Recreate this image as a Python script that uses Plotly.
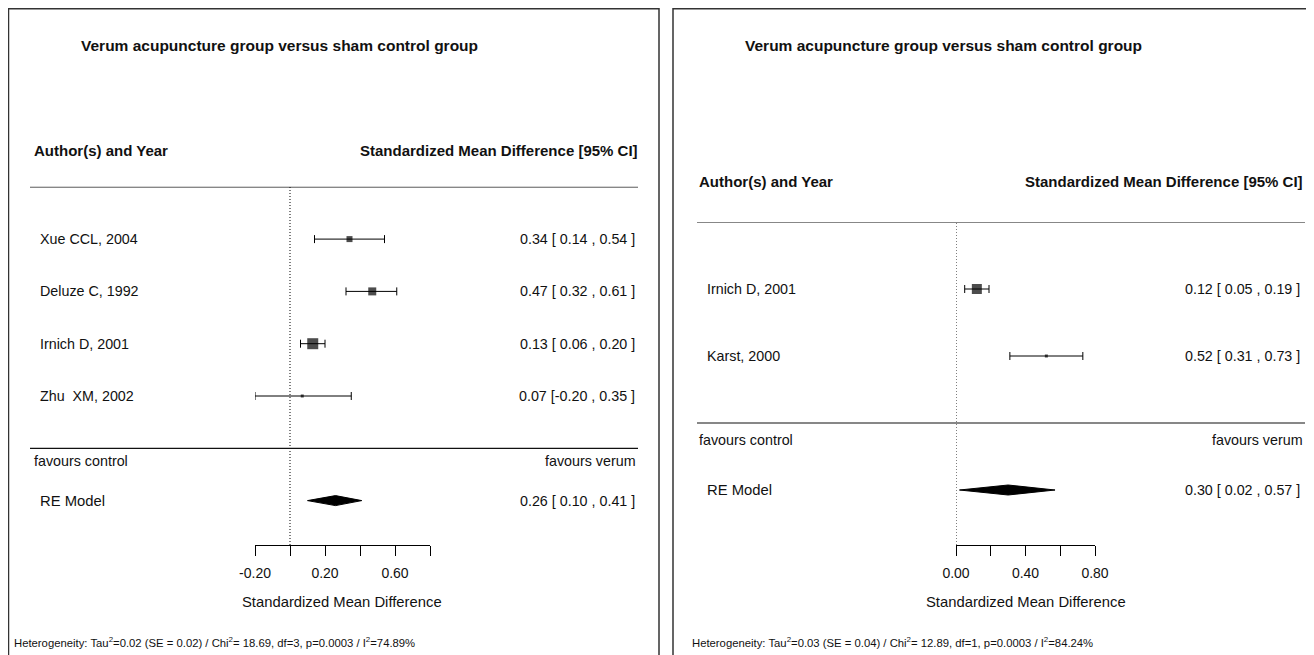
import plotly.graph_objects as go

# ---------------- data ----------------
title_text = "Verum acupuncture group versus sham control group"
col_left = "Author(s) and Year"
col_right = "Standardized Mean Difference [95% CI]"
axis_title = "Standardized Mean Difference"

# Left panel
L_studies = ["Xue CCL, 2004", "Deluze C, 1992", "Irnich D, 2001", "Zhu  XM, 2002"]
L_est = [0.34, 0.47, 0.13, 0.07]
L_lo = [0.14, 0.32, 0.06, -0.20]
L_hi = [0.54, 0.61, 0.20, 0.35]
L_re = [0.26, 0.10, 0.41]
L_ticks = [-0.2, 0.0, 0.2, 0.4, 0.6, 0.8]
L_ticklabels = ["-0.20", "", "0.20", "", "0.60", ""]
L_het = ("Heterogeneity: Tau<sup>2</sup>=0.02 (SE = 0.02) / Chi<sup>2</sup>= 18.69, "
         "df=3, p=0.0003 / I<sup>2</sup>=74.89%")

# Right panel
R_studies = ["Irnich D, 2001", "Karst, 2000"]
R_est = [0.12, 0.52]
R_lo = [0.05, 0.31]
R_hi = [0.19, 0.73]
R_re = [0.30, 0.02, 0.57]
R_ticks = [0.0, 0.2, 0.4, 0.6, 0.8]
R_ticklabels = ["0.00", "", "0.40", "", "0.80"]
R_het = ("Heterogeneity: Tau<sup>2</sup>=0.03 (SE = 0.04) / Chi<sup>2</sup>= 12.89, "
         "df=1, p=0.0003 / I<sup>2</sup>=84.24%")

# ---------------- style / layout ----------------
OFF = 8                      # page body margin
W, H = 1314 - OFF, 655 - OFF  # figure fills the rest of the window
FONT = "Liberation Sans, Arial, Helvetica, sans-serif"
L_marker_px = [6, 8, 11, 3]
R_marker_px = [10, 3]
TXT = 14.3


def px(x):
    return (x - OFF) / W


def py(y):
    return 1 - (y - OFF) / H


def fmt(e, lo, hi):
    return f"{e:.2f} [{lo:5.2f} , {hi:.2f} ]"


fig = go.Figure()
annotations = []
shapes = []

panels = [
    dict(studies=L_studies, est=L_est, lo=L_lo, hi=L_hi, re=L_re, ticks=L_ticks,
         ticklabels=L_ticklabels, het=L_het, msize=L_marker_px,
         xax="x", yax="y", xkey="xaxis", ykey="yaxis",
         ax_px=(255, 430), xrange=[-0.2, 0.8], row1_px=396, pitch=52.3, top_row=5,
         box=(8.5, 659), title_x=279, head_y=151, txt_l=38, head_l=32, txt_r=637,
         line_l=30, line_r=638, het_x=12, dia_h=5),
    dict(studies=R_studies, est=R_est, lo=R_lo, hi=R_hi, re=R_re, ticks=R_ticks,
         ticklabels=R_ticklabels, het=R_het, msize=R_marker_px,
         xax="x2", yax="y2", xkey="xaxis2", ykey="yaxis2",
         ax_px=(956, 1095), xrange=[0.0, 0.8], row1_px=356, pitch=67.0, top_row=3,
         box=(673, 1330), title_x=943, head_y=181, txt_l=705, head_l=697, txt_r=1302,
         line_l=697, line_r=1305, het_x=690, dia_h=5),
]

AXIS_PX = 545

for p in panels:
    k = len(p["studies"])
    rows = list(range(k, 0, -1))
    ybot = 1 - (AXIS_PX - p["row1_px"]) / p["pitch"]
    top_px = p["row1_px"] - (p["top_row"] - 1) * p["pitch"]
    ytop = p["top_row"]

    # study estimates with CIs
    fig.add_trace(go.Scatter(
        x=p["est"], y=rows, mode="markers", xaxis=p["xax"], yaxis=p["yax"],
        marker=dict(symbol="square", size=p["msize"], color="black", line=dict(width=0)),
        error_x=dict(type="data", symmetric=False,
                     array=[h - e for h, e in zip(p["hi"], p["est"])],
                     arrayminus=[e - l for e, l in zip(p["est"], p["lo"])],
                     width=4, thickness=1, color="black"),
        cliponaxis=False, showlegend=False, hoverinfo="skip"))

    # RE diamond
    e, lo, hi = p["re"]
    hh = p["dia_h"] / p["pitch"]
    fig.add_trace(go.Scatter(
        x=[lo, e, hi, e, lo], y=[-1, -1 + hh, -1, -1 - hh, -1],
        mode="lines", fill="toself", fillcolor="black",
        line=dict(color="black", width=1), xaxis=p["xax"], yaxis=p["yax"],
        cliponaxis=False, showlegend=False, hoverinfo="skip"))

    fig.layout[p["xkey"]] = dict(
        domain=[px(p["ax_px"][0]), px(p["ax_px"][1])], range=p["xrange"],
        anchor=p["yax"], showgrid=False, zeroline=False, showline=True,
        linecolor="black", linewidth=1, ticks="outside", ticklen=10,
        tickwidth=1, tickcolor="black", tickvals=p["ticks"], ticktext=p["ticklabels"],
        tickfont=dict(family=FONT, size=14, color="#111"), ticklabelstandoff=5,
        automargin=False, fixedrange=True)
    fig.layout[p["ykey"]] = dict(
        domain=[py(AXIS_PX), py(top_px)], range=[ybot, ytop], visible=False,
        anchor=p["xax"], fixedrange=True, automargin=False)

    # dotted zero line
    shapes.append(dict(type="line", xref=p["xax"], yref=p["yax"], x0=0, x1=0,
                       y0=ybot, y1=ytop, line=dict(color="black", width=1, dash="1px,2px")))
    # header line and separator line
    for yy in (ytop, 0):
        shapes.append(dict(type="line", xref="paper", yref=p["yax"],
                           x0=px(p["line_l"]), x1=px(p["line_r"]), y0=yy, y1=yy,
                           line=dict(color="#111", width=1.2)))
    # frame
    shapes.append(dict(type="rect", xref="paper", yref="paper",
                       x0=px(p["box"][0]), x1=px(p["box"][1]), y0=-0.1, y1=py(8.8),
                       line=dict(color="#333", width=1.5)))

    def ann(text, x, y, xref="paper", yref="paper", xanchor="left", size=TXT,
            color="#111", family=FONT):
        annotations.append(dict(text=text, x=x, y=y, xref=xref, yref=yref,
                                xanchor=xanchor, yanchor="middle", showarrow=False,
                                font=dict(family=family, size=size, color=color)))

    ann(f"<b>{title_text}</b>", px(p["title_x"]), py(46), xanchor="center", size=15.5)
    ann(f"<b>{col_left}</b>", px(p["head_l"]), py(p["head_y"]), size=15)
    ann(f"<b>{col_right}</b>", px(p["txt_r"] + 3), py(p["head_y"]), xanchor="right", size=15)
    for name, r, e_, l_, h_ in zip(p["studies"], rows, p["est"], p["lo"], p["hi"]):
        ann(name, px(p["txt_l"]), r, yref=p["yax"])
        ann(fmt(e_, l_, h_), px(p["txt_r"]), r, yref=p["yax"], xanchor="right")
    ann("favours control", px(p["head_l"]), -0.25, yref=p["yax"])
    ann("favours verum", px(p["line_r"]), -0.25, yref=p["yax"], xanchor="right")
    ann("RE Model", px(p["txt_l"]), -1, yref=p["yax"], size=14.8)
    ann(fmt(e, lo, hi), px(p["txt_r"]), -1, yref=p["yax"], xanchor="right")
    ann(axis_title, px((p["ax_px"][0] + p["ax_px"][1]) / 2), py(602), xanchor="center", size=14.8)
    ann(p["het"], px(p["het_x"]), py(642), size=11.3)

fig.update_layout(
    width=W, height=H, autosize=False,
    margin=dict(l=0, r=0, t=0, b=0, pad=0, autoexpand=False),
    paper_bgcolor="white", plot_bgcolor="rgba(0,0,0,0)",
    annotations=annotations, shapes=shapes, showlegend=False,
    font=dict(family=FONT, color="#111"))

fig.write_html("out.html")
